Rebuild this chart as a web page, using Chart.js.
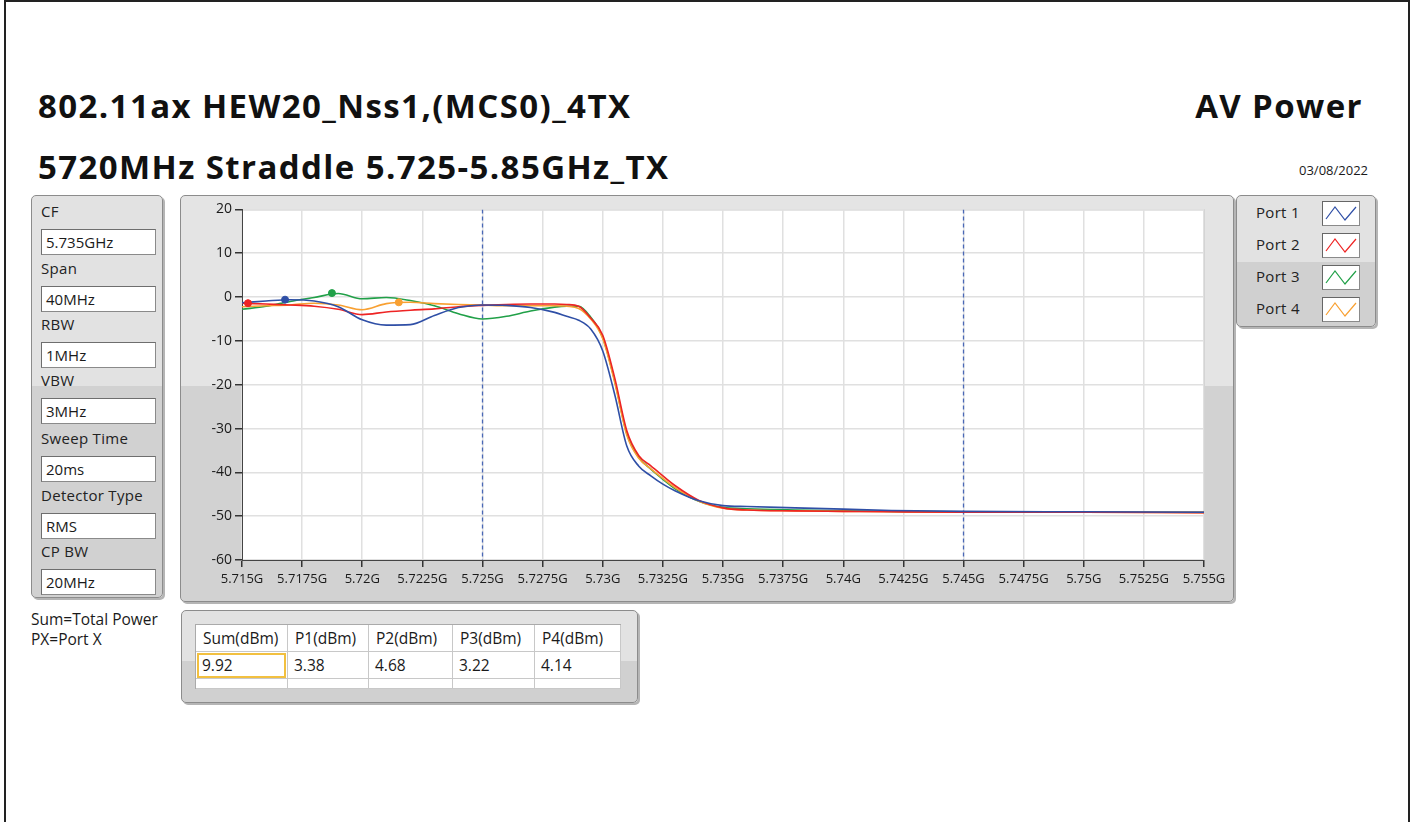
<!DOCTYPE html>
<html>
<head>
<meta charset="utf-8">
<script src="https://cdn.jsdelivr.net/npm/chart.js@4.4.0/dist/chart.umd.min.js"></script>
<style>
  body { margin:0; background:#fff; font-family:"Open Sans", sans-serif; color:#1a1a1a; }
  #page { position:absolute; left:4px; top:0; width:1402px; height:840px; border:2px solid #222; }
  .abs { position:absolute; white-space:nowrap; }
  .title { font-weight:bold; font-size:33px; line-height:33px; letter-spacing:1.4px; color:#111; }
  .panel { position:absolute; border:1px solid #8c8c8c; border-radius:5px; box-shadow:2px 2px 0 #b5b5b5; }
  .lbl { position:absolute; font-size:15px; line-height:15px; letter-spacing:0.3px; color:#222; white-space:nowrap; }
  .box { position:absolute; background:#fff; border:1px solid #8a8a8a; border-top-color:#6e6e6e; border-left-color:#6e6e6e; font-size:15px; line-height:24px; padding-left:4px; box-sizing:border-box; }
  .cell { position:absolute; font-size:15.5px; line-height:26px; box-sizing:border-box; padding-left:6px; border-right:1px solid #c8c8c8; border-bottom:1px solid #c8c8c8; background:#fff; white-space:nowrap; overflow:hidden; }
</style>
</head>
<body>
<div id="page"></div>

<div class="abs title" style="left:38px; top:89px;">802.11ax HEW20_Nss1,(MCS0)_4TX</div>
<div class="abs title" style="right:52px; top:89px;">AV Power</div>
<div class="abs title" style="left:38px; top:150px;">5720MHz Straddle 5.725-5.85GHz_TX</div>
<div class="abs" style="right:47px; top:164px; font-size:13px; line-height:13px;">03/08/2022</div>

<div class="panel" id="setPanel" style="left:31px; top:195px; width:130px; height:401px; background:linear-gradient(#e2e2e2 0, #e2e2e2 190px, #d1d1d1 190px);"></div>
<div class="abs" style="left:31px; top:609px; font-size:15.5px; line-height:20px;">Sum=Total Power<br>PX=Port X</div>

<div class="panel" style="left:180px; top:195px; width:1052px; height:405px; background:linear-gradient(#e4e4e4 0, #e4e4e4 190px, #d2d2d2 190px);"></div>
<canvas id="spec" width="1046" height="400" style="position:absolute; left:184px; top:198px;"></canvas>

<div class="panel" id="legPanel" style="left:1236px; top:195px; width:138px; height:130px; background:linear-gradient(#e2e2e2 0, #e2e2e2 66px, #d0d0d0 66px);"></div>

<div class="panel" id="tblPanel" style="left:181px; top:610px; width:455px; height:91px; background:linear-gradient(#e2e2e2 0, #e2e2e2 50px, #d0d0d0 50px);"></div>

<script>
// sweep frequencies (GHz) and trace levels (dBm) for each port
const freqGHz = [5.7150, 5.7160, 5.7170, 5.7180, 5.7190, 5.7200, 5.7210, 5.7220, 5.7230, 5.7240,
                 5.7250, 5.7260, 5.7270, 5.7280, 5.7285, 5.7290, 5.7295, 5.7300, 5.7305, 5.7310,
                 5.7315, 5.7320, 5.7325, 5.7330, 5.7340, 5.7350, 5.7360, 5.7380, 5.7400, 5.7420,
                 5.7450, 5.7500, 5.7550];
const port1 = [-1.3, -0.9, -0.6, -0.9, -2.2, -5.2, -6.4, -6.3, -4.2, -2.4,
               -1.8, -1.9, -2.4, -3.5, -4.4, -5.3, -7.3, -12.3, -22.3, -34.0,
               -38.6, -40.8, -42.7, -44.2, -46.5, -47.6, -47.8, -48.1, -48.4, -48.7,
               -48.9, -49.0, -49.1];
const port2 = [-1.4, -1.6, -1.8, -2.1, -2.8, -4.0, -3.4, -3.0, -2.7, -2.2,
               -1.9, -1.7, -1.6, -1.6, -1.7, -2.1, -4.8, -8.7, -18.5, -30.5,
               -36.2, -38.5, -40.8, -43.0, -46.4, -48.1, -48.6, -48.8, -48.9, -49.0,
               -49.1, -49.1, -49.2];
const port3 = [-2.8, -2.1, -1.0, -0.1, 0.8, -0.4, -0.1, -0.8, -2.0, -3.8,
               -5.0, -4.4, -3.2, -2.3, -2.1, -2.1, -4.6, -9.2, -19.2, -31.2,
               -36.6, -39.3, -41.6, -43.7, -46.6, -48.0, -48.3, -48.6, -48.8, -48.9,
               -49.0, -49.1, -49.1];
const port4 = [-2.2, -2.0, -1.8, -1.4, -1.8, -2.9, -1.5, -1.2, -1.5, -1.7,
               -1.8, -2.0, -2.0, -2.0, -2.1, -2.6, -5.0, -9.5, -19.5, -31.5,
               -36.8, -39.2, -41.4, -43.5, -46.6, -48.2, -48.6, -48.8, -48.9, -49.0,
               -49.1, -49.1, -49.2];

// peak markers, one per port
const markerFreq = [5.71679, 5.71525, 5.71874, 5.72152];
const markerLevel = [-0.6, -1.4, 0.9, -1.2];

const portNames = ["Port 1", "Port 2", "Port 3", "Port 4"];
const portColors = ["#2f4fa6", "#ee2424", "#21a048", "#f8a032"];

// band edge lines
const edgeFreq = [5.725, 5.745];

const xTickValues = [5.715, 5.7175, 5.72, 5.7225, 5.725, 5.7275, 5.73, 5.7325, 5.735, 5.7375,
                     5.74, 5.7425, 5.745, 5.7475, 5.75, 5.7525, 5.755];
const xTickLabels = ["5.715G", "5.7175G", "5.72G", "5.7225G", "5.725G", "5.7275G", "5.73G", "5.7325G", "5.735G", "5.7375G",
                     "5.74G", "5.7425G", "5.745G", "5.7475G", "5.75G", "5.7525G", "5.755G"];
const yTickValues = [20, 10, 0, -10, -20, -30, -40, -50, -60];

const settingNames = ["CF", "Span", "RBW", "VBW", "Sweep Time", "Detector Type", "CP BW"];
const settingValues = ["5.735GHz", "40MHz", "1MHz", "3MHz", "20ms", "RMS", "20MHz"];

const tableHeaders = ["Sum(dBm)", "P1(dBm)", "P2(dBm)", "P3(dBm)", "P4(dBm)"];
const tableValues = ["9.92", "3.38", "4.68", "3.22", "4.14"];

// ---- settings panel
const setRowTop = [204, 261, 317, 373, 431, 488, 544];
settingNames.forEach(function(name, i) {
  const l = document.createElement("div");
  l.className = "lbl";
  l.style.left = "41px";
  l.style.top = setRowTop[i] + "px";
  l.textContent = name;
  document.body.appendChild(l);
  const b = document.createElement("div");
  b.className = "box";
  b.style.left = "41px";
  b.style.top = (setRowTop[i] + 25) + "px";
  b.style.width = "115px";
  b.style.height = "26px";
  b.textContent = settingValues[i];
  document.body.appendChild(b);
});

// ---- legend
portNames.forEach(function(name, i) {
  const top = 201 + i * 32;
  const l = document.createElement("div");
  l.className = "lbl";
  l.style.left = "1256px";
  l.style.top = (top + 4) + "px";
  l.textContent = name;
  document.body.appendChild(l);
  const s = document.createElement("div");
  s.style.cssText = "position:absolute; left:1322px; top:" + top + "px; width:38px; height:25px; background:#fff; border:1px solid #8a8a8a; border-top-color:#666; border-left-color:#666; box-sizing:border-box;";
  s.innerHTML = '<svg width="36" height="23"><polyline points="3,17 12,5 22,18 33,5" fill="none" stroke="' + portColors[i] + '" stroke-width="1.2"/></svg>';
  document.body.appendChild(s);
});

// ---- power table
const colLeft = [195, 287, 368, 452, 534, 620];
const tbl = document.createElement("div");
tbl.style.cssText = "position:absolute; left:195px; top:624px; width:425px; height:64px; background:#fff; border-left:1px solid #aaa; border-top:1px solid #aaa;";
document.body.appendChild(tbl);
tableHeaders.forEach(function(h, i) {
  const w = colLeft[i + 1] - colLeft[i];
  [h, tableValues[i], ""].forEach(function(txt, r) {
    const c = document.createElement("div");
    c.className = "cell";
    c.style.left = (colLeft[i] - 195) + "px";
    c.style.top = (r * 27) + "px";
    c.style.width = w + "px";
    c.style.height = (r === 2 ? 10 : 27) + "px";
    if (r === 0) c.style.paddingLeft = "7px";
    c.textContent = txt;
    tbl.appendChild(c);
  });
});
const sel = document.createElement("div");
sel.style.cssText = "position:absolute; left:1px; top:28px; width:89px; height:25px; border:2px solid #f2c040; box-sizing:border-box;";
tbl.appendChild(sel);

// ---- chart
function pts(ys) { return freqGHz.map(function(f, i) { return { x: f, y: ys[i] }; }); }
const traces = [port1, port2, port4, port3];
const traceIdx = [0, 1, 3, 2];

const datasets = [];
markerFreq.forEach(function(f, i) {
  datasets.push({ data: [{ x: f, y: markerLevel[i] }], showLine: false, pointRadius: 3.5,
    pointBackgroundColor: portColors[i], pointBorderColor: portColors[i] });
});
traces.forEach(function(t, k) {
  const c = portColors[traceIdx[k]];
  datasets.push({ data: pts(t), borderColor: c, borderWidth: 1.6, pointRadius: 0,
    cubicInterpolationMode: "monotone", fill: false });
});
edgeFreq.forEach(function(f) {
  datasets.push({ data: [{ x: f, y: 20 }, { x: f, y: -60 }], borderColor: "#4a68b6", borderWidth: 1.3,
    borderDash: [4, 3], pointRadius: 0 });
});

const plotBg = {
  id: "plotBg",
  beforeDraw: function(chart) {
    const a = chart.chartArea, ctx = chart.ctx;
    ctx.save();
    ctx.fillStyle = "#ffffff";
    ctx.fillRect(a.left, a.top, a.right - a.left, a.bottom - a.top);
    ctx.strokeStyle = "#c9c9c9";
    ctx.lineWidth = 1;
    ctx.strokeRect(a.left + 0.5, a.top + 0.5, a.right - a.left, a.bottom - a.top);
    ctx.restore();
  }
};

new Chart(document.getElementById("spec"), {
  type: "line",
  data: { datasets: datasets },
  options: {
    responsive: false,
    animation: false,
    devicePixelRatio: 1,
    layout: { padding: { top: 7, right: 26, left: 0, bottom: 0 } },
    plugins: { legend: { display: false }, tooltip: { enabled: false } },
    scales: {
      x: {
        type: "linear", min: 5.715, max: 5.755,
        afterBuildTicks: function(s) { s.ticks = xTickValues.map(function(v) { return { value: v }; }); },
        afterFit: function(s) { s.height = 38; },
        ticks: {
          autoSkip: false, maxRotation: 0, padding: 4, color: "#1a1a1a",
          font: { family: "Open Sans", size: 13 },
          callback: function(v, i) { return xTickLabels[i]; }
        },
        grid: { color: "#e0e0e0", lineWidth: 1.5, tickColor: "#333", tickLength: 7 },
        border: { color: "#444", width: 1 }
      },
      y: {
        min: -60, max: 20,
        afterBuildTicks: function(s) { s.ticks = yTickValues.map(function(v) { return { value: v }; }); },
        afterFit: function(s) { s.width = 58; },
        ticks: { color: "#1a1a1a", padding: 3, font: { family: "Open Sans", size: 14 } },
        grid: { color: "#e0e0e0", lineWidth: 1.5, tickColor: "#333", tickLength: 7 },
        border: { color: "#444", width: 1 }
      }
    }
  },
  plugins: [plotBg]
});
</script>
</body>
</html>
